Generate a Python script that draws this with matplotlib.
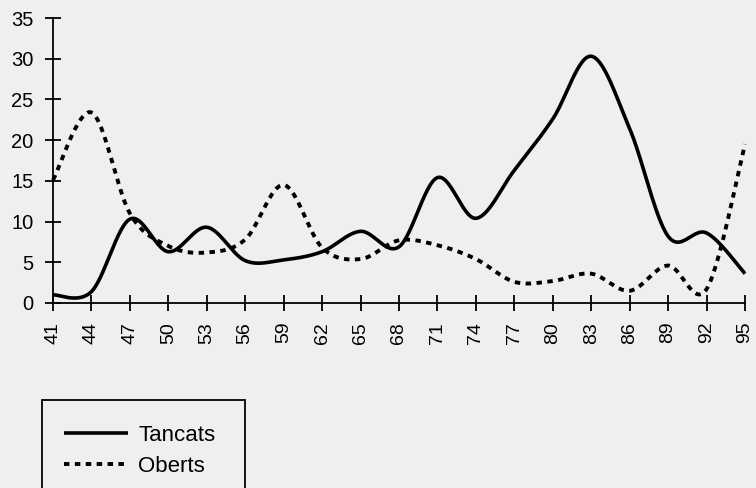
import numpy as np
import matplotlib
matplotlib.use("Agg")
import matplotlib.pyplot as plt
from matplotlib.patches import Rectangle

years = [41, 44, 47, 50, 53, 56, 59, 62, 65, 68, 71, 74, 77, 80, 83, 86, 89, 92, 95]
tancats = [1.0, 1.4, 10.3, 6.3, 9.3, 5.2, 5.3, 6.3, 8.8, 6.9, 15.4, 10.4, 16.3,
           22.6, 30.3, 21.4, 8.2, 8.6, 3.6]
oberts = [15.1, 23.4, 11.0, 7.0, 6.2, 7.8, 14.5, 6.8, 5.4, 7.7, 7.1, 5.4, 2.6,
          2.7, 3.6, 1.5, 4.6, 1.7, 19.5]

plt.rcParams["font.family"] = ["Liberation Sans", "DejaVu Sans"]


def smooth(x, y, n=30):
    # Catmull-Rom spline through the points, like a spreadsheet "smoothed line"
    p = np.column_stack([x, y]).astype(float)
    p = np.vstack([p[0], p, p[-1]])
    t = np.linspace(0, 1, n, endpoint=False)[:, None]
    out = []
    for i in range(1, len(p) - 2):
        p0, p1, p2, p3 = p[i - 1], p[i], p[i + 1], p[i + 2]
        seg = 0.5 * ((2 * p1) + (-p0 + p2) * t
                     + (2 * p0 - 5 * p1 + 4 * p2 - p3) * t ** 2
                     + (-p0 + 3 * p1 - 3 * p2 + p3) * t ** 3)
        out.append(seg)
    out.append(p[-2][None, :])
    out = np.vstack(out)
    return out[:, 0], out[:, 1]


bg = "#efefef"
fig = plt.figure(figsize=(7.56, 4.88), dpi=100, facecolor=bg)
ax = fig.add_axes([53 / 756, 1 - 303 / 488, (745 - 53) / 756, (303 - 18) / 488])
ax.set_facecolor(bg)

sx, sy = smooth(years, tancats)
ax.plot(sx, sy, color="black", lw=2.6, solid_capstyle="butt", label="Tancats",
        clip_on=False)
sx, sy = smooth(years, oberts)
ax.plot(sx, sy, color="black", lw=2.8, linestyle=(0, (1.4, 1.4)),
        dash_capstyle="butt", label="Oberts", clip_on=False)

ax.set_xlim(41, 95)
ax.set_ylim(0, 35)
ax.set_xticks(years)
ax.set_xticklabels([str(y) for y in years], rotation=90)
ax.set_yticks(range(0, 36, 5))

for s in ["top", "right"]:
    ax.spines[s].set_visible(False)
for s in ["left", "bottom"]:
    ax.spines[s].set_linewidth(1.3)
    ax.spines[s].set_color("black")

ax.tick_params(axis="x", direction="inout", length=11, width=1.3, pad=8,
               labelsize=14)
ax.tick_params(axis="y", direction="inout", length=11, width=1.3, pad=8.5,
               labelsize=14.5)

# legend box, bottom cut off by the page edge
fig.patches.append(Rectangle((42 / 756, -0.05), (245 - 42) / 756, 0.05 + (488 - 400) / 488,
                             transform=fig.transFigure, fill=False,
                             edgecolor="black", lw=1.3))
h, l = ax.get_legend_handles_labels()
fig.legend(h, l, loc="upper left", bbox_to_anchor=(64 / 756, 1 - 425 / 488),
           frameon=False, fontsize=16, handlelength=2.9, handletextpad=0.45,
           labelspacing=0.45, borderaxespad=0, borderpad=0)

fig.savefig("out.png", dpi=100, facecolor=bg)
